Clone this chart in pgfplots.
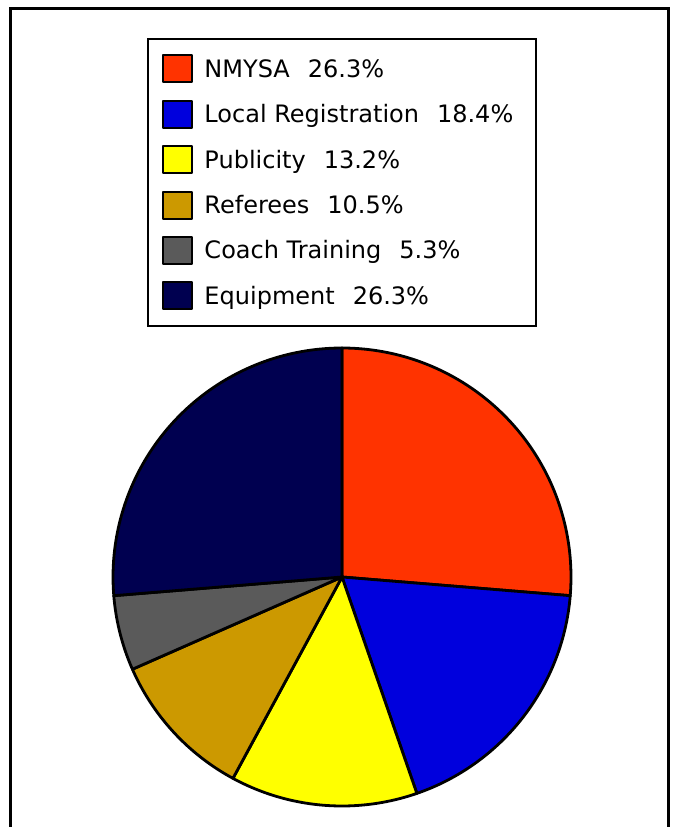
\documentclass[border=0pt]{standalone}
\usepackage{fontspec}
\setmainfont{DejaVu Sans}
\usepackage{pgfplots}
\usepackage{pgfplotstable}
\pgfplotsset{compat=1.18}
\definecolor{c0}{HTML}{FF3300}
\definecolor{c1}{HTML}{0000DD}
\definecolor{c2}{HTML}{FFFF00}
\definecolor{c3}{HTML}{CC9900}
\definecolor{c4}{HTML}{5A5A5A}
\definecolor{c5}{HTML}{000050}
\pgfplotstableread[col sep=comma]{
name,pct
NMYSA,26.3
Local Registration,18.4
Publicity,13.2
Referees,10.5
Coach Training,5.3
Equipment,26.3
}\pietable
\begin{document}
\begin{tikzpicture}
\useasboundingbox (0,0) rectangle (674pt,827pt);
\begin{axis}[
  at={(0,0)}, anchor=south west,
  scale only axis, width=674pt, height=827pt,
  xmin=-342, xmax=332, ymin=-250, ymax=577,
  hide axis, clip=false,
  legend cell align=left,
  legend style={at={(0.2181,0.9541)}, anchor=north west, draw=black, line width=2pt,
    inner xsep=14pt, inner ysep=15.5pt, row sep=16.4pt, column sep=9pt,
    font=\fontsize{24}{28}\selectfont},
  legend image code/.code={\draw[#1, line width=2pt] (0pt,-13.5pt) rectangle (29.5pt,13.5pt);},
]
\def\cum{0}
\pgfplotsforeachungrouped \i in {0,...,5}{%
  \pgfplotstablegetelem{\i}{pct}\of\pietable \let\p\pgfplotsretval
  \pgfplotstablegetelem{\i}{name}\of\pietable \let\n\pgfplotsretval
  \pgfmathsetmacro\a{90-3.6*\cum}%
  \pgfmathsetmacro\b{90-3.6*(\cum+\p)}%
  \pgfmathsetmacro\cum{\cum+\p}%
  \edef\temp{\noexpand\addplot[fill=c\i, draw=black, line width=2.8pt, line join=round, domain=\a:\b, samples=90] ({229*cos(x)},{229*sin(x)}) -- (axis cs:0,0) -- cycle;
    \noexpand\addlegendentry{\n\noexpand\hspace{0.75em}\p\noexpand\%\noexpand\rule{7pt}{0pt}}}%
  \temp
}
\end{axis}
\draw[line width=3pt] (10.5pt,-2pt) -- (10.5pt,818.5pt) -- (668.5pt,818.5pt) -- (668.5pt,-2pt);
\end{tikzpicture}
\end{document}
